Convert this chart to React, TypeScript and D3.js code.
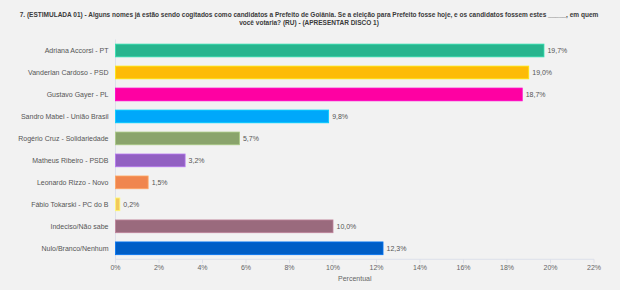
import React from "react";
import * as d3 from "d3";

const categories = [
  "Adriana Accorsi - PT",
  "Vanderlan Cardoso - PSD",
  "Gustavo Gayer - PL",
  "Sandro Mabel - União Brasil",
  "Rogério Cruz - Solidariedade",
  "Matheus Ribeiro - PSDB",
  "Leonardo Rizzo - Novo",
  "Fábio Tokarski - PC do B",
  "Indeciso/Não sabe",
  "Nulo/Branco/Nenhum",
];
const values = [19.7, 19.0, 18.7, 9.8, 5.7, 3.2, 1.5, 0.2, 10.0, 12.3];
const colors = [
  "#27b58e", "#fdbb07", "#fe01a2", "#00a8fa", "#8aa46c",
  "#9260c2", "#f0864e", "#f2c95c", "#9a6a7d", "#005ec6",
];
const ticks = [0, 2, 4, 6, 8, 10, 12, 14, 16, 18, 20, 22];
const titleLines = [
  "7. (ESTIMULADA 01) - Alguns nomes já estão sendo cogitados como candidatos a Prefeito de Goiânia. Se a eleição para Prefeito fosse hoje, e os candidatos fossem estes _____, em quem",
  "você votaria? (RU) - (APRESENTAR DISCO 1)",
];
const axisTitle = "Percentual";

const W = 620, H = 290;
const left = 115.5, right = 594, top = 39.5, bottom = 259.3;

export default function App() {
  const x = d3.scaleLinear().domain([0, 22]).range([left, right]);
  const y = d3.scaleBand<string>().domain(categories).range([top, bottom]).paddingInner(0.42).paddingOuter(0.21);
  const fmt = (v: number) => v.toFixed(1).replace(".", ",") + "%";
  const font = "Liberation Sans, Arial, sans-serif";
  return (
    <svg width={W} height={H} style={{ position: "absolute", left: 0, top: 0, background: "#f2f2f2" }} fontFamily={font}>
      <rect x={0} y={0} width={W} height={H} fill="#f2f2f2" />
      {titleLines.map((t, i) => (
        <text key={i} x={309} y={17.3 + i * 7.8} textAnchor="middle" fontSize={6.5} fontWeight="bold" fill="#3a3a3a">{t}</text>
      ))}
      <line x1={left} x2={left} y1={top} y2={bottom} stroke="#dde0ea" strokeWidth={1} />
      <line x1={left} x2={right} y1={bottom} y2={bottom} stroke="#dde0ea" strokeWidth={1} />
      {ticks.map((t) => (
        <g key={t}>
          <line x1={x(t)} x2={x(t)} y1={bottom} y2={bottom + 4} stroke="#dde0ea" />
          <text x={x(t)} y={bottom + 11} textAnchor="middle" fontSize={7} fill="#666">{t}%</text>
        </g>
      ))}
      {categories.map((c) => (
        <text key={c} x={left - 7} y={(y(c) ?? 0) + y.bandwidth() / 2} dy="0.35em" textAnchor="end" fontSize={7} fill="#555">{c}</text>
      ))}
      {categories.map((c, i) => (
        <g key={"b" + c}>
          <rect x={x(0)} y={y(c)} width={x(values[i]) - x(0)} height={y.bandwidth()} fill={colors[i]}
            stroke={d3.color(colors[i])!.brighter(0.6).formatHex()} strokeWidth={0.8} />
          <text x={x(values[i]) + 3.5} y={(y(c) ?? 0) + y.bandwidth() / 2} dy="0.35em" fontSize={7} fill="#555">{fmt(values[i])}</text>
        </g>
      ))}
      <text x={(left + right) / 2} y={281} textAnchor="middle" fontSize={7} fill="#666">{axisTitle}</text>
    </svg>
  );
}
